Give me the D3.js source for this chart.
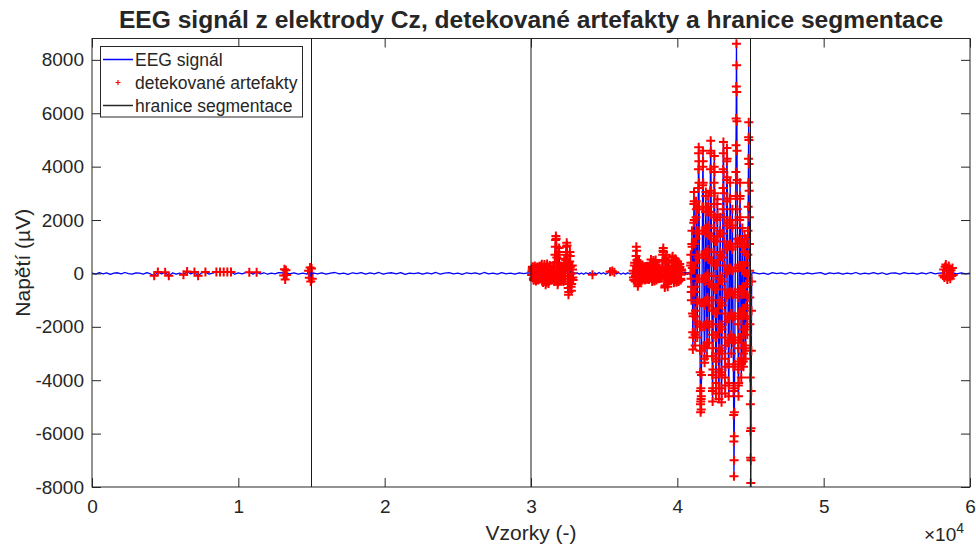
<!DOCTYPE html>
<html>
<head>
<meta charset="utf-8">
<script src="https://cdn.jsdelivr.net/npm/d3@7"></script>
<style>
  body { margin: 0; background: #fff; }
  svg { display: block; }
  text { font-family: "Liberation Sans", Arial, Helvetica, sans-serif; fill: #262626; }
</style>
</head>
<body>
<svg id="chart" width="976" height="546"></svg>
<script>
// ---- EEG trace, electrode Cz (µV), stored as stretches sampled at a fixed step ----
// samples 0 … 12 750, every 250
const rest0 = [10,-25,30,-15,20,-35,15,25,-20,35,-10,-30,20,10,-25,30,
  -20,-85,50,-15,40,-90,20,-30,15,-50,70,-20,50,-90,25,50,-25,15,
  55,50,55,50,55,-30,20,-15,30,45,-25,45,-20,25,-30,15,-20,30];
// samples 13 050 … 13 350, every 50
const spot1a = [20,-80,160,-230,120,-60,15];
// samples 13 500 … 14 700, every 300
const rest1 = [-20,25,-30,15,-25];
// samples 14 800 … 15 100, every 50
const spot1b = [100,-160,220,-300,180,-200,20];
// samples 15 400 … 29 800, every 300
const rest2 = [-15,25,-30,10,35,-20,15,-35,25,-10,
  30,-25,20,-15,35,-30,10,25,-20,30,
  -35,15,-10,25,-30,20,-15,35,-25,10,
  30,-20,15,-35,25,-10,20,-30,35,-15,
  10,-25,30,-20,15,-30,25,-10,20];
// samples 30 000 … 33 000, every 20
const burstMid1 = [10,-20,-60,
  80,180,250,150,-50,-200,-260,-150,40,220,
  280,180,-20,-220,-280,-180,60,200,240,100,
  -100,-230,-250,-120,80,230,270,150,-60,-200,
  -150,
  0,180,300,340,220,0,-220,-340,-300,-120,
  100,280,330,200,-50,-280,-420,-350,-150,80,
  260,350,250,40,-200,-360,-380,-200,20,220,
  300,200,0,-180,-260,-150,30,
  120,-80,60,-100,
  100,300,200,-150,-300,100,400,700,1000,1250,
  1400,1300,1000,600,200,-200,-420,-350,0,400,
  800,950,700,200,-250,-100,
  150,280,150,-100,-250,-150,100,250,120,
  -100,-300,0,300,550,400,100,-200,200,500,
  800,1000,1150,1050,700,300,-200,-550,-800,-700,
  -400,0,450,800,650,250,-200,-500,-650,-400,
  0,300,150,-150,-250,
  40,-20,30,-25,15,10];
// samples 33 150 … 36 750, every 150
const quietMid = [20,-25,15,-30,25,-15,30,-50,20,-25,35,-15,25,-30,15,60,90,40,-20,25,-30,15,-25,20,-10];
// samples 36 900 … 40 880, every 20
const burstMid2 = [10,-25,20,-30,
  100,-150,-250,0,300,400,100,-300,-100,300,
  650,1000,850,500,100,-300,-480,-400,0,400,
  450,150,-250,-300,0,300,200,-150,-200,
  100,240,150,-100,-220,-150,50,200,250,100,
  -120,-250,-180,30,180,260,150,-80,-220,-200,
  -30,150,240,120,-100,-230,-160,60,200,150,
  250,400,520,350,50,-200,-300,-150,150,400,
  480,300,0,-250,-280,-80,200,420,500,300,
  -50,-250,-200,50,250,200,-100,
  100,-150,-200,-50,150,200,80,-120,-180,-30,120,60,
  -100,200,450,700,850,950,800,500,100,-300,
  -530,-450,-200,150,500,700,600,250,-150,-400,
  -500,-300,50,400,300,-100,-200,
  100,-150,-200,50,150,-100,
  0,250,450,600,640,450,150,-200,-350,-300,
  0,300,500,550,300,0,-250,-330,-150,150,
  400,450,250,-50,-300,-280,-50,200,350,250,
  0,-200,-250,-50,150,100,
  30,-20,25,-35,15,30,-25,20,-15,35,
  -30,10,25,-40,20,-15,30,-25,15,-30,
  25,-20,35,-10,20,-30,15,25,-20];
// samples 40 900 … 45 090, every 10
const burstBig = [
  0,300,700,400,-200,-700,-1000,-500,300,1100,1600,1000,200,-700,-1500,
  -2200,-2850,-2400,-1600,-700,200,1100,1900,2600,3050,
  2700,2000,1100,200,-700,-1600,-2300,-2700,-2200,-1400,
  -500,400,1300,2100,2700,2400,1600,700,-200,-1100,
  -1900,-2400,-1800,-1000,-200,
  600,1500,2400,3200,3900,4500,4730,4200,3400,2500,
  1600,700,-200,-1100,-2000,-2900,-3700,-4400,-4900,-5200,
  -4800,-4300,-4700,-5100,-4600,-3800,-2900,-2000,-1100,-200,
  700,1600,2500,3300,4000,4600,4200,3400,2500,1600,
  700,-200,-1100,-2000,-2700,-3200,
  -3350,-2800,-2000,-1200,-300,600,1500,2300,2900,3050,
  2500,1700,800,-100,-1000,-1900,-2600,-3100,-2600,-1800,
  -900,0,900,1800,2500,2900,2300,1500,600,-300,
  -1200,-2000,-2600,-2000,-1200,-400,
  500,1400,2300,3100,3900,4500,4970,4600,3900,3100,
  2200,1300,400,-500,-1400,-2300,-3100,-3800,-4400,-4800,
  -4300,-3600,-2800,-1900,-1000,-100,800,1700,2600,3400,
  4000,4400,3800,3000,2100,1200,300,-600,-1500,-2400,
  -3200,-3900,-4500,-4100,-3300,-2400,
  -1500,-600,300,1200,2000,2600,2780,2200,1400,500,
  -400,-1300,-2200,-3000,-3700,-4300,-4700,-4300,-3600,-2800,
  -1900,-1000,-100,800,1600,2100,1500,700,-200,-1100,
  -2000,-2900,-3700,-4300,-4830,-4500,-3800,-3000,-2100,-1200,
  -300,600,1500,2400,3200,3900,4500,4920,4500,3800,
  3000,2100,1200,300,-600,-1500,-2400,-3200,-3900,-4500,
  -4200,-3500,-2700,-1800,-900,0,900,1800,2700,3500,
  4200,4700,4300,3600,2800,1900,1000,100,-800,-1700,
  -2600,-3400,-4100,-4600,-4200,-3400,-2500,-1600,-700,200,
  1100,2000,2800,3400,2800,2000,1100,200,-700,-1500,
  -2300,-3000,-2400,-1500,-700,100,900,1700,2400,1800,
  1000,100,-800,-1700,-2600,-3500,-4400,-5300,-6300,-7600,
  -7000,-6100,-5200,-4300,-3400,-2500,-1600,-700,200,1100,
  2000,2900,3800,4800,5800,7000,8600,7800,6800,5700,
  4600,3500,2400,1300,200,-900,
  -1900,-2800,-3600,-4200,-4600,-4100,-3300,-2400,-1500,-600,
  300,1200,2000,2800,3400,2900,2100,1200,300,-600,
  -1500,-2400,-3200,-3900,-3400,-2600,-1700,-800,100,1000,
  1700,1100,300,-500,
  -1300,-2100,-2800,-3300,-3500,-3000,-2300,-1500,-700,100,
  800,1400,1000,300,-500,-1300,-2100,-2800,-3200,-2700,
  -2000,-1200,-400,400,1100,1300,700,0,-800,-1600,
  -2300,-1700,-900,-100,
  700,1600,2500,3400,4300,5100,5660,5000,4100,3100,
  2100,1100,100,-900,-1900,-2900,-3900,-4900,-5900,-6900,
  -7850,-7000,-5800,-4400,-2900,-1400,-300,
  20];
// samples 45 300 … 57 900, every 300
const rest3 = [25,-20,15,-35,30,-10,20,-25,35,-15,
  10,-30,25,-20,15,30,-35,20,-10,25,
  -30,15,-20,35,-25,10,-15,30,-20,25,
  -35,15,20,-25,30,-10,15,-30,25,-20,
  35,-15,10];
// samples 58 100 … 58 900, every 50
const spot2 = [20,-80,150,-150,250,330,100,-230,-120,280,180,-200,120,-100,200,-60,15];
// samples 59 100 … 60 000, every 300
const rest4 = [-20,25,-15,10];

// sample ranges flagged as artefacts [from, to]
const artifactRanges = [[4250,4500],[5000,5250],[6250,6500],[7000,7000],[7250,7250],[7750,7750],
  [8500,9500],[10750,10750],[11250,11250],[13100,13300],[14800,15050],
  [30040,32880],[34200,34200],[35400,35700],[36980,40300],[40900,45080],[58150,58850]];

// segment boundaries (samples)
const segmentBounds = [15000, 30000, 45000];

// axis ticks
const xTicks = [0,10000,20000,30000,40000,50000,60000];
const xTickLabels = ["0","1","2","3","4","5","6"];
const yTicks = [-8000,-6000,-4000,-2000,0,2000,4000,6000,8000];

const pieces = [
  {start: 0,     step: 250, values: rest0},
  {start: 13050, step: 50,  values: spot1a},
  {start: 13500, step: 300, values: rest1},
  {start: 14800, step: 50,  values: spot1b},
  {start: 15400, step: 300, values: rest2},
  {start: 30000, step: 20,  values: burstMid1},
  {start: 33150, step: 150, values: quietMid},
  {start: 36900, step: 20,  values: burstMid2},
  {start: 40900, step: 10,  values: burstBig},
  {start: 45300, step: 300, values: rest3},
  {start: 58100, step: 50,  values: spot2},
  {start: 59100, step: 300, values: rest4}
];
const trace = pieces.flatMap(p => p.values.map((v, i) => ({s: p.start + i * p.step, v})));
const artefacts = trace.filter(d => artifactRanges.some(([a, b]) => d.s >= a && d.s <= b));

// ---- layout ----
const svg = d3.select("#chart");
const L = 92, R = 970, T = 38.5, B = 487;
const axisColor = "#262626";
const x = d3.scaleLinear().domain([0, 60000]).range([L, R]);
const y = d3.scaleLinear().domain([-8000, 8800]).range([B, T]);

svg.append("rect").attr("width", 976).attr("height", 546).attr("fill", "#fff");

svg.append("defs").append("clipPath").attr("id", "plotClip")
  .append("rect").attr("x", L).attr("y", T).attr("width", R - L).attr("height", B - T);

const plot = svg.append("g").attr("clip-path", "url(#plotClip)");

// EEG signal
plot.append("path")
  .datum(trace)
  .attr("fill", "none")
  .attr("stroke", "#0000ff")
  .attr("stroke-width", 1.3)
  .attr("stroke-linejoin", "round")
  .attr("d", d3.line().x(d => x(d.s)).y(d => y(d.v)));

// artefact markers (+)
const h = 4.5;
plot.append("path")
  .attr("fill", "none")
  .attr("stroke", "#ff0000")
  .attr("stroke-width", 2)
  .attr("d", artefacts.map(d => {
    const px = x(d.s), py = y(d.v);
    return `M${px - h},${py}h${2 * h}M${px},${py - h}v${2 * h}`;
  }).join(""));

// segmentation boundaries
plot.selectAll("line.seg").data(segmentBounds).enter().append("line")
  .attr("class", "seg")
  .attr("x1", d => x(d)).attr("x2", d => x(d))
  .attr("y1", T).attr("y2", B)
  .attr("stroke", "#1a1a1a").attr("stroke-width", 1);

// ---- axes ----
const tickLen = 9;
const styleAxis = g => {
  g.select(".domain").remove();
  g.selectAll(".tick line").attr("stroke", axisColor);
  g.selectAll(".tick text").attr("fill", axisColor).style("font-size", "19px")
    .style("font-family", '"Liberation Sans", Arial, Helvetica, sans-serif');
};

svg.append("g").attr("transform", `translate(0,${B})`)
  .call(d3.axisBottom(x).tickValues(xTicks).tickSizeInner(-tickLen).tickSizeOuter(0)
    .tickPadding(13).tickFormat((d, i) => xTickLabels[i]))
  .call(styleAxis);

svg.append("g").attr("transform", `translate(0,${T})`)
  .call(d3.axisTop(x).tickValues(xTicks).tickSizeInner(-tickLen).tickSizeOuter(0).tickFormat(""))
  .call(styleAxis);

svg.append("g").attr("transform", `translate(${L},0)`)
  .call(d3.axisLeft(y).tickValues(yTicks).tickSizeInner(-tickLen).tickSizeOuter(0)
    .tickPadding(8).tickFormat(d => String(d)))
  .call(styleAxis);

svg.append("g").attr("transform", `translate(${R},0)`)
  .call(d3.axisRight(y).tickValues(yTicks).tickSizeInner(-tickLen).tickSizeOuter(0).tickFormat(""))
  .call(styleAxis);

svg.append("rect")
  .attr("x", L).attr("y", T).attr("width", R - L).attr("height", B - T)
  .attr("fill", "none").attr("stroke", axisColor).attr("stroke-width", 1);

// exponent of x axis
const expo = svg.append("text").attr("x", 924).attr("y", 541).style("font-size", "19px");
expo.append("tspan").text("×10");
expo.append("tspan").attr("dy", -8).style("font-size", "14px").text("4");

// titles
svg.append("text")
  .attr("x", (L + R) / 2).attr("y", 27.5)
  .attr("text-anchor", "middle")
  .style("font-size", "24.6px").style("font-weight", "bold").attr("fill", "#000")
  .text("EEG signál z elektrody Cz, detekované artefakty a hranice segmentace");

svg.append("text")
  .attr("x", (L + R) / 2).attr("y", 540)
  .attr("text-anchor", "middle").style("font-size", "21px")
  .text("Vzorky (-)");

svg.append("text")
  .attr("transform", `translate(30,${(T + B) / 2}) rotate(-90)`)
  .attr("text-anchor", "middle").style("font-size", "21px")
  .text("Napětí (µV)");

// ---- legend ----
const legend = svg.append("g");
legend.append("rect")
  .attr("x", 100.5).attr("y", 46.5).attr("width", 202).attr("height", 70.5)
  .attr("fill", "#fff").attr("stroke", axisColor).attr("stroke-width", 1);

const legendItems = [
  {label: "EEG signál", kind: "line", color: "#0000ff", y: 59.5},
  {label: "detekované artefakty", kind: "marker", color: "#ff0000", y: 82.5},
  {label: "hranice segmentace", kind: "line", color: "#262626", y: 105.5}
];
legendItems.forEach(it => {
  if (it.kind === "line") {
    legend.append("line").attr("x1", 103).attr("x2", 133).attr("y1", it.y).attr("y2", it.y)
      .attr("stroke", it.color).attr("stroke-width", 1.5);
  } else {
    legend.append("path").attr("d", `M115.5,${it.y}h5M118,${it.y - 2.5}v5`)
      .attr("stroke", it.color).attr("stroke-width", 1.2).attr("fill", "none");
  }
  legend.append("text").attr("x", 135).attr("y", it.y + 6.3)
    .style("font-size", "17.5px").attr("fill", "#000").text(it.label);
});
</script>
</body>
</html>
